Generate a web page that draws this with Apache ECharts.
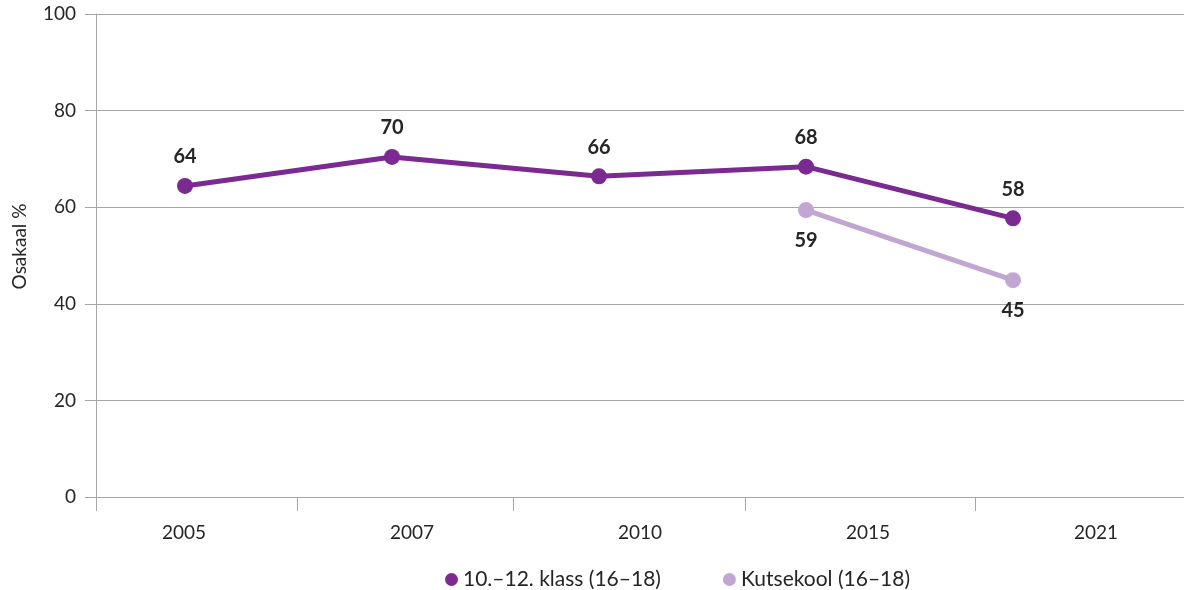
<!DOCTYPE html>
<html>
<head>
<meta charset="utf-8">
<script src="https://cdn.jsdelivr.net/npm/echarts@6/dist/echarts.min.js"></script>
<style>
html,body{margin:0;padding:0;background:#fff;}
#chart{width:1184px;height:590px;}
</style>
</head>
<body>
<div id="chart"></div>
<script>
// ---- data ----
const years = ['2005', '2007', '2010', '2015', '2021'];
const seriesNames = ['10.–12. klass (16–18)', 'Kutsekool (16–18)'];
const klassValues = [64.4, 70.4, 66.4, 68.4, 57.7];
const kutsekoolValues = [null, null, null, 59.4, 44.9];
const yTicks = [0, 20, 40, 60, 80, 100];

// ---- layout / style ----
const FONT = 'Lato';
const GRAY = '#a6a6a6';
const TEXT = '#262626';
const DARK = '#7b2a91';
const LIGHT = '#c0a6d1';
// x-axis tick marks (pixel offsets from the plot's left edge)
const xTickOffsets = [0, 201, 417, 649, 879];

const chart = echarts.init(document.getElementById('chart'));
const gridTop = 14, gridBottom = 93;

chart.setOption({
  animation: false,
  textStyle: { fontFamily: FONT },
  grid: [
    { left: 96, right: 0, top: gridTop, bottom: gridBottom },     // frame
    { left: 184, right: 88, top: gridTop, bottom: gridBottom },   // year labels
    { left: 185, right: 171, top: gridTop, bottom: gridBottom }   // series
  ],
  legend: {
    data: seriesNames,
    left: 440,
    top: 564,
    icon: 'circle',
    itemWidth: 13,
    itemHeight: 13,
    itemGap: 62,
    textStyle: { fontFamily: FONT, fontSize: 21, color: TEXT }
  },
  xAxis: [
    {
      gridIndex: 0, type: 'value', min: 0, max: 1088,
      axisLine: { show: true, lineStyle: { color: GRAY, width: 1 } },
      axisTick: { show: true, inside: false, length: 14, customValues: xTickOffsets, lineStyle: { color: GRAY } },
      axisLabel: { show: false },
      splitLine: { show: false }
    },
    {
      gridIndex: 1, type: 'category', data: years, boundaryGap: false,
      axisLine: { show: false }, axisTick: { show: false },
      axisLabel: { show: true, margin: 26, fontFamily: FONT, fontSize: 19, color: TEXT }
    },
    {
      gridIndex: 2, type: 'category', data: years, boundaryGap: false, show: false
    }
  ],
  yAxis: [
    {
      gridIndex: 0, type: 'value', min: yTicks[0], max: yTicks[yTicks.length - 1], interval: 20,
      name: 'Osakaal %', nameLocation: 'middle', nameGap: 67, nameRotate: 90,
      nameTextStyle: { fontFamily: FONT, fontSize: 19, color: TEXT, padding: [0, 0, 0, 18] },
      axisLine: { show: true, lineStyle: { color: GRAY, width: 1 } },
      axisTick: { show: true, inside: false, length: 11, lineStyle: { color: GRAY } },
      axisLabel: { margin: 20, fontFamily: FONT, fontSize: 19, color: TEXT },
      splitLine: { show: true, lineStyle: { color: GRAY, width: 1 } }
    },
    { gridIndex: 1, type: 'value', min: 0, max: 100, show: false },
    { gridIndex: 2, type: 'value', min: 0, max: 100, show: false }
  ],
  series: [
    {
      name: seriesNames[0], type: 'line', xAxisIndex: 2, yAxisIndex: 2,
      data: klassValues,
      color: DARK,
      symbol: 'circle', symbolSize: 16,
      lineStyle: { color: DARK, width: 5 },
      itemStyle: { color: DARK },
      label: {
        show: true, position: 'top', distance: 11,
        fontFamily: FONT, fontSize: 20, fontWeight: 'bold', color: TEXT,
        formatter: p => Math.round(p.value)
      },
      z: 3
    },
    {
      name: seriesNames[1], type: 'line', xAxisIndex: 2, yAxisIndex: 2,
      data: kutsekoolValues,
      color: LIGHT,
      symbol: 'circle', symbolSize: 16,
      lineStyle: { color: LIGHT, width: 5 },
      itemStyle: { color: LIGHT },
      label: {
        show: true, position: 'bottom', distance: 12,
        fontFamily: FONT, fontSize: 20, fontWeight: 'bold', color: TEXT,
        formatter: p => p.value == null ? '' : Math.round(p.value)
      },
      z: 2
    }
  ]
});
</script>
</body>
</html>
